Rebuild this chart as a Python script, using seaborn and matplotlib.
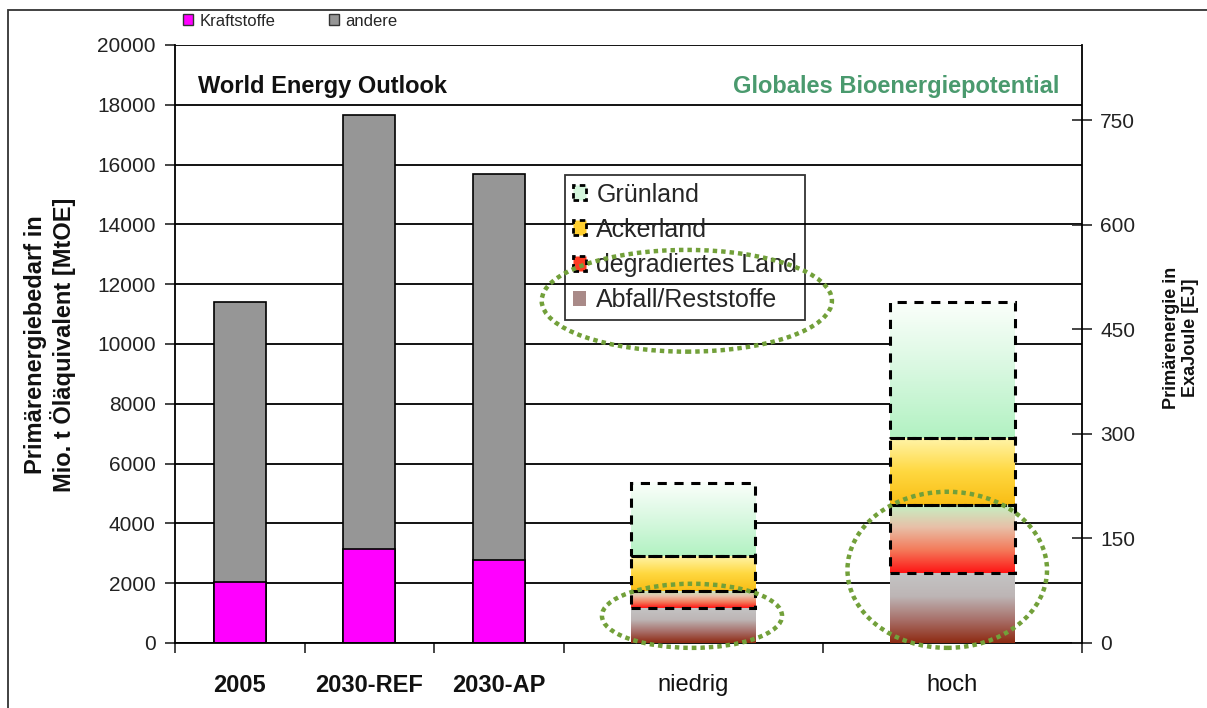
import numpy as np
import pandas as pd
import matplotlib
matplotlib.use("Agg")
import matplotlib.pyplot as plt
import seaborn as sns
from matplotlib.patches import Patch, Ellipse, Rectangle
from matplotlib.colors import LinearSegmentedColormap

# ---------------- data ----------------
weo_categories = ["2005", "2030-REF", "2030-AP"]
kraftstoffe = [2030, 3130, 2780]          # MtOE
andere = [9370, 14520, 12920]             # MtOE

bio_categories = ["niedrig", "hoch"]
abfall = [50, 100]                        # EJ
degradiert = [25, 98]
ackerland = [50, 96]
gruenland = [105, 195]

left_ticks = [0, 2000, 4000, 6000, 8000, 10000, 12000, 14000, 16000, 18000, 20000]
right_ticks = [0, 150, 300, 450, 600, 750]

# ---------------- layout / style ----------------
x_weo = [0.5, 1.5, 2.5]
x_bio = [4.0, 6.0]
bio_width = 0.96
ej_max = 858

sns.set_style("white")
plt.rcParams["font.family"] = ["Liberation Sans", "DejaVu Sans"]

fig = plt.figure(figsize=(12.07, 7.08), dpi=100)
ax = fig.add_axes([175 / 1207, 65 / 708, 907 / 1207, 598 / 708])

df = pd.DataFrame({"pos": x_weo,
                   "total": np.array(kraftstoffe) + np.array(andere),
                   "kraft": kraftstoffe})
sns.barplot(data=df, x="pos", y="total", native_scale=True, width=0.4,
            color="#969696", saturation=1, edgecolor="black", linewidth=1.2,
            errorbar=None, ax=ax)
sns.barplot(data=df, x="pos", y="kraft", native_scale=True, width=0.4,
            color="#ff00ff", saturation=1, edgecolor="black", linewidth=1.2,
            errorbar=None, ax=ax)

ax.set_xlim(0, 7)
ax.set_ylim(0, 20000)
ax.set_yticks(left_ticks)
ax.set_yticklabels([str(t) for t in left_ticks])
ax.yaxis.grid(True, color="black", linewidth=1.3)
ax.set_axisbelow(True)
ax.set_xlabel("")
ax.set_ylabel("")
for s in ["top", "right"]:
    ax.spines[s].set_visible(False)
for s in ["left", "bottom"]:
    ax.spines[s].set_color("black")
    ax.spines[s].set_linewidth(1.3)
ax.tick_params(axis="y", direction="out", length=7, width=1.2, pad=7,
               labelsize=15, labelcolor="#222222", left=True)
ax.set_xticks([0, 1, 2, 3, 5, 7])
ax.set_xticklabels([])
ax.set_xticks(x_weo + x_bio, minor=True)
ax.set_xticklabels(weo_categories + bio_categories, minor=True)
ax.tick_params(axis="x", which="major", direction="out", length=7, width=1.2, bottom=True)
ax.tick_params(axis="x", which="minor", length=0, pad=22, labelsize=17, labelcolor="#111111")
for lab in ax.get_xticklabels(minor=True):
    if lab.get_text() in weo_categories:
        lab.set_fontweight("bold")

# ---------------- bioenergy potential (right axis) ----------------
ax2 = ax.twinx()
ax2.set_ylim(0, ej_max)
ax2.set_yticks(right_ticks)
ax2.set_yticklabels([str(t) for t in right_ticks])
for s in ["top", "left", "bottom"]:
    ax2.spines[s].set_visible(False)
ax2.spines["right"].set_color("black")
ax2.spines["right"].set_linewidth(1.3)
ax2.tick_params(axis="y", direction="inout", length=14, width=1.2, pad=6,
                labelsize=15, labelcolor="#222222", right=True)

cm_abfall = LinearSegmentedColormap.from_list("abf", ["#8e2a12", "#a8706a", "#bdb5b5", "#c4c4c4"])
cm_degr = LinearSegmentedColormap.from_list("deg", ["#ff1414", "#f47a5a", "#e8c0a8", "#c4f2c4"])
cm_acker = LinearSegmentedColormap.from_list("ack", ["#f9bd14", "#ffd840", "#fff4a8"])
cm_gruen = LinearSegmentedColormap.from_list("gru", ["#b2f2c2", "#d8f8e0", "#fbfffb"])

segments = [(abfall, cm_abfall, False),
            (degradiert, cm_degr, True),
            (ackerland, cm_acker, True),
            (gruenland, cm_gruen, True)]
grad = np.linspace(0, 1, 256).reshape(-1, 1)
for i, x in enumerate(x_bio):
    bottom = 0
    for vals, cmap, dashed in segments:
        h = vals[i]
        ax2.bar(x, h, width=bio_width, bottom=bottom, facecolor="none",
                edgecolor="black" if dashed else "none",
                linestyle=(0, (3, 2.5)), linewidth=2.2, zorder=4)
        ax2.imshow(grad, cmap=cmap, origin="lower", aspect="auto", zorder=3,
                   extent=(x - bio_width / 2, x + bio_width / 2, bottom, bottom + h))
        bottom += h
ax2.set_xlim(0, 7)
ax2.set_ylim(0, ej_max)

# inner legend
handles = [Patch(facecolor="#d4f6dc", edgecolor="black", linestyle=(0, (2, 1.5)), linewidth=2),
           Patch(facecolor="#ffcf30", edgecolor="black", linestyle=(0, (2, 1.5)), linewidth=2),
           Patch(facecolor="#ff3a22", edgecolor="black", linestyle=(0, (2, 1.5)), linewidth=2),
           Patch(facecolor="#a98a88", edgecolor="none")]
leg = ax2.legend(handles, ["Grünland", "Ackerland", "degradiertes Land", "Abfall/Reststoffe"],
                 loc="upper left", bbox_to_anchor=((565 - 175) / 907, (643 - 175) / 598),
                 borderaxespad=0, fontsize=18, frameon=True, fancybox=False,
                 handlelength=0.55, handleheight=0.55, handletextpad=0.4,
                 borderpad=0.3, labelspacing=0.45)
leg.get_frame().set_edgecolor("black")
leg.get_frame().set_facecolor("none")
leg.get_frame().set_linewidth(1.3)
leg.set_zorder(6)

# green dotted ellipses
ell_color = "#72a03a"
for (cx, cy, w, h) in [(3.95, 491, 2.24, 146), (3.99, 39, 1.39, 92), (5.96, 105, 1.54, 224)]:
    e = Ellipse((cx, cy), w, h, fill=False, edgecolor=ell_color, linewidth=3.2,
                linestyle=(0, (1, 0.9)), zorder=8, clip_on=False)
    ax2.add_patch(e)

# texts
ax.text((198 - 175) / 907, (643 - 86) / 598, "World Energy Outlook", transform=ax.transAxes,
        fontsize=17, fontweight="bold", color="#111111", ha="left", va="center")
ax.text((1059 - 175) / 907, (643 - 86) / 598, "Globales Bioenergiepotential", transform=ax.transAxes,
        fontsize=17, fontweight="bold", color="#4a9a6e", ha="right", va="center")

fig.text(50 / 1207, 1 - 345 / 708, "Primärenergiebedarf in\nMio. t Öläquivalent [MtOE]",
         rotation=90, ha="center", va="center", multialignment="center",
         fontsize=17, fontweight="bold", color="#111111", linespacing=1.1)
fig.text(1181 / 1207, 1 - 338 / 708, "Primärenergie in\nExaJoule [EJ]",
         rotation=90, ha="center", va="center", multialignment="center",
         fontsize=13, fontweight="bold", color="#111111")

# top legend
fig.legend([Patch(facecolor="#ff00ff", edgecolor="#333333"),
            Patch(facecolor="#969696", edgecolor="#333333")],
           ["Kraftstoffe", "andere"], ncol=2, loc="center left",
           bbox_to_anchor=(168 / 1207, 1 - 21 / 708), frameon=False, fontsize=12,
           handlelength=0.6, handleheight=0.6, handletextpad=0.4, columnspacing=3.2)

# outer frame
fig.add_artist(Rectangle((8 / 1207, -0.1), 1.2, 1 - 10 / 708 + 0.1, transform=fig.transFigure,
                         fill=False, edgecolor="#333333", linewidth=1.3))

fig.savefig("out.png", dpi=100)
